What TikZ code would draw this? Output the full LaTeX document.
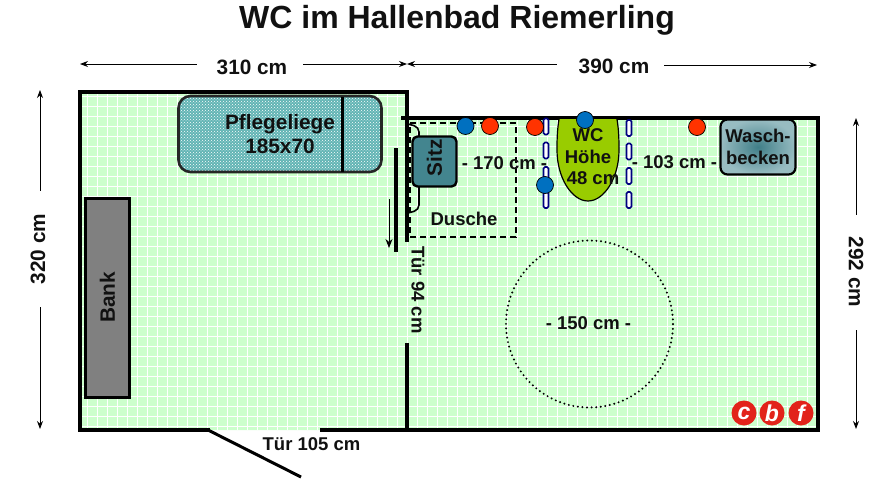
\documentclass[tikz,border=0pt]{standalone}
\usepackage{fontspec}
\setmainfont{Liberation Sans}
\usetikzlibrary{patterns,arrows.meta,shadings}
\definecolor{floorgreen}{HTML}{CCFFCC}
\definecolor{liegeteal}{HTML}{62B4B4}
\definecolor{sitzteal}{HTML}{43858F}
\definecolor{wcgreen}{HTML}{99CC00}
\definecolor{holdred}{HTML}{FF3300}
\definecolor{holdblue}{HTML}{0070C0}
\definecolor{railblue}{HTML}{000080}
\definecolor{logored}{HTML}{E2231A}
\definecolor{inktext}{HTML}{111111}
\tikzset{
  label/.style={font=\bfseries\fontsize{18.5}{21.5}\selectfont,inner sep=1pt,align=center,text=inktext},
  biglabel/.style={font=\bfseries\fontsize{20.8}{24}\selectfont,inner sep=1pt,align=center,text=inktext},
  wall/.style={line width=4pt},
  dimline/.style={line width=.9pt,{Stealth[length=8pt,width=6pt]}-},
  hold/.style={circle,draw=black,line width=.7pt,minimum size=17pt,inner sep=0pt},
  rail/.style={draw=railblue,fill=white,line width=1.6pt,rounded corners=1.5pt,minimum width=5pt,minimum height=16pt,inner sep=0pt},
  logo/.style={circle,fill=logored,minimum size=25pt,inner sep=0pt,text=white,font=\bfseries\itshape\fontsize{23}{23}\selectfont}
}
\begin{document}
\begin{tikzpicture}[x=1pt,y=-1pt]
\useasboundingbox (0,0) rectangle (887,493);
% floor
\fill[floorgreen] (80,92) -- (407,92) -- (407,117) -- (818,117) -- (818,430) -- (80,430) -- cycle;
\begin{scope}
\clip (80,92) -- (407,92) -- (407,117) -- (818,117) -- (818,430) -- (80,430) -- cycle;
\foreach \gx in {87,97,...,817} \draw[white,line width=.9pt] (\gx,90) -- (\gx,432);
\foreach \gy in {96,106,...,426} \draw[white,line width=.9pt] (78,\gy) -- (820,\gy);
\end{scope}
% walls
\coordinate (tl) at (80,92);
\coordinate (tm) at (407,92);
\coordinate (bl) at (80,430);
\coordinate (br) at (818,430);
\coordinate (tr) at (818,118);
\coordinate (mj) at (403,118);
\coordinate (dl) at (208,430);
\coordinate (dr) at (322,430);
\coordinate (dtip) at (301,477);
\coordinate (wl) at (407,240);
\coordinate (wb) at (407,343);
\coordinate (wbb) at (407,430);
\draw[wall,line cap=rect] (dl) -- (bl) -- (tl) -- (tm) -- (wl);
\draw[wall,line cap=rect] (mj) -- (tr) -- (br) -- (dr);
\draw[wall] (wb) -- (wbb);
\draw[line width=3pt] (dl) -- (dtip);
% door inside
\coordinate (lf1) at (396,148);
\coordinate (lf2) at (396,252);
\coordinate (ar1) at (389,199);
\coordinate (ar2) at (389,248);
\draw[line width=4pt] (lf1) -- (lf2);
\draw[line width=.9pt,-{Stealth[length=9pt,width=7pt]}] (ar1) -- (ar2);
% title
\node[font=\bfseries\fontsize{32}{34}\selectfont,text=inktext] (title) at (457,20) {WC im Hallenbad Riemerling};
% dimensions
\node[biglabel] (dtop1) at (252,67) {310 cm};
\coordinate (dtop1l) at (80,64);
\coordinate (dtop1r) at (407,64);
\draw[dimline] (dtop1l) -- (197,64);
\draw[dimline] (dtop1r) -- (303,64);
\node[biglabel] (dtop2) at (614,66) {390 cm};
\coordinate (dtop2l) at (407,64);
\coordinate (dtop2r) at (817,65);
\draw[dimline] (dtop2l) -- (557,64);
\draw[dimline] (dtop2r) -- (664,65);
\node[biglabel,rotate=90] (dleft) at (38,249) {320 cm};
\coordinate (dleftt) at (40,90);
\coordinate (dleftb) at (40,429);
\draw[dimline] (dleftt) -- (40,191);
\draw[dimline] (dleftb) -- (40,307);
\node[biglabel,rotate=-90] (dright) at (856,272) {292 cm};
\coordinate (drightt) at (856,118);
\coordinate (drightb) at (856,429);
\draw[dimline] (drightt) -- (856,215);
\draw[dimline] (drightb) -- (856,330);
% furniture
\node[draw=black,line width=3pt,fill=gray,minimum width=199pt,minimum height=44pt,rotate=90,inner sep=0pt,biglabel] (bank) at (107.5,297.5) {Bank};
\node[draw=black!85,line width=2.6pt,rounded corners=12pt,minimum width=203pt,minimum height=76pt,inner sep=0pt,
      preaction={fill=liegeteal},pattern=crosshatch dots,pattern color=white] (liege) at (280,134) {};
\coordinate (lg1) at (342.5,97);
\coordinate (lg2) at (342.5,172);
\draw[line width=2.4pt] (lg1) -- (lg2);
\node[biglabel] (liegetext) at (280,134) {Pflegeliege\\185x70};
% shower
\coordinate (ds1) at (410,123);
\coordinate (ds2) at (516,123);
\coordinate (ds3) at (516,237);
\coordinate (ds4) at (410,237);
\draw[line width=1.3pt,dash pattern=on 6pt off 4pt] (ds1) -- (ds2) -- (ds3) -- (ds4) -- cycle;
\draw[line width=1.6pt,rounded corners=5pt] (408,124) -- (419,127) -- (419,210) -- (408,213);
\node[draw=black,line width=2.4pt,fill=sitzteal,rounded corners=5pt,minimum width=44pt,minimum height=50pt,inner sep=0pt] (sitz) at (434.5,161.5) {};
\node[biglabel,rotate=90] (sitztext) at (434.5,158) {Sitz};
\node[label] (dusche) at (464,219) {Dusche};
% wc
\begin{scope}
\clip (500,119) rectangle (680,210);
\fill[wcgreen,draw=black,line width=1.2pt] (561,110) .. controls (557,125) and (557,140) .. (557,150)
   .. controls (557,178) and (572,201) .. (588,201) .. controls (604,201) and (619,178) .. (619,150)
   .. controls (619,140) and (619,125) .. (615,110) -- cycle;
\end{scope}
% rails
\foreach \ry/\rn in {126.5/ra,150.5/rb,175/rc,200/rd}
  \node[rail] (\rn) at (546,\ry) {};
\foreach \ry/\rn in {128/re,151.5/rf,176/rg,200/rh}
  \node[rail] (\rn) at (629,\ry) {};
% labels right room
\node[label] (wctext) at (588,157) {WC\\Höhe\\\hspace*{10pt}48 cm};
\node[label] (d170) at (504.5,163) {- 170 cm -};
\node[label] (d103) at (674.5,162) {- 103 cm -};
\node[hold,fill=holdblue] (hb1) at (465.5,126) {};
\node[hold,fill=holdred] (hr1) at (490,126) {};
\node[hold,fill=holdred] (hr2) at (535,127) {};
\node[hold,fill=holdblue] (hb2) at (585,120) {};
\node[hold,fill=holdblue] (hb3) at (545,185) {};
\node[hold,fill=holdred] (hr3) at (697,127) {};
\node[draw=black,line width=2.2pt,rounded corners=7pt,minimum width=75pt,minimum height=55pt,inner sep=0pt,
      inner color=sitzteal!95!black,outer color=sitzteal!55!white,label] (wasch) at (758,147) {Wasch-\\becken};
% door label, circle
\node[label,rotate=-90] (tuer94) at (418,290) {Tür 94 cm};
\node[label] (tuer105) at (311.5,444) {Tür 105 cm};
\node[draw=black,circle,line width=2.2pt,line cap=round,dash pattern=on 0pt off 4.6pt,minimum size=167pt,inner sep=0pt] (turn) at (589.5,324) {};
\node[label] (d150) at (588.5,323) {- 150 cm -};
% logo
\begin{scope}
\clip (725,395) rectangle (818,428);
\foreach \lx/\lt/\ln in {744/c/lc,772/b/lb,801/f/lf}
  \node[logo] (\ln) at (\lx,413) {\raisebox{-8pt}{\lt}};
\end{scope}
\end{tikzpicture}
\end{document}
